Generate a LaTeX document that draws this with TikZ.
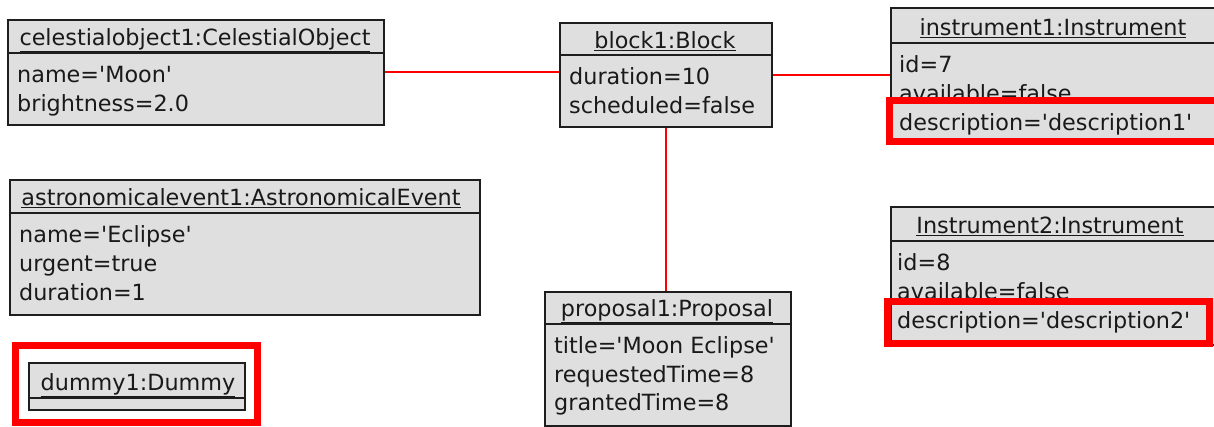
\documentclass[tikz,border=0pt]{standalone}
\usepackage{fontspec}
\setmainfont{DejaVu Sans}
\newcommand{\aps}{\textquotesingle}
\definecolor{boxgray}{RGB}{223,223,223}
\definecolor{boxline}{RGB}{30,30,30}
\definecolor{hired}{RGB}{255,0,0}
\tikzset{
  objbox/.style={draw=boxline, line width=1.5pt, fill=boxgray, inner sep=0pt, anchor=north west},
  divline/.style={draw=boxline, line width=1.5pt},
  txt/.style={inner sep=0pt, font=\fontsize{22.3}{26}\selectfont, text=black!90},
  attr/.style={txt, anchor=base west},
  ttl/.style={txt, anchor=base},
  assoc/.style={draw=hired, line width=1.8pt},
  hilite/.style={draw=hired, line width=7pt}
}
\begin{document}
\begin{tikzpicture}[x=1pt,y=-1pt]
\useasboundingbox (0,0) rectangle (1214,426);
\clip (0,0) rectangle (1214,426);
\fill[white] (0,0) rectangle (1214,426);

% celestialobject1
\node[objbox, minimum width=376pt, minimum height=105pt] (cel) at (7,19) {};
\draw[divline] (7,53) -- (383,53);
\node[ttl] (celt) at (195,45) {\underline{celestialobject1:CelestialObject}};
\node[attr] (cela1) at (17,82) {name=\aps Moon\aps};
\node[attr] (cela2) at (17,111) {brightness=2.0};

% block1
\node[objbox, minimum width=212pt, minimum height=104pt] (blk) at (559,22) {};
\draw[divline] (559,55) -- (771,55);
\node[ttl] (blkt) at (665,48) {\underline{block1:Block}};
\node[attr] (blka1) at (569,84) {duration=10};
\node[attr] (blka2) at (569,113) {scheduled=false};

% instrument1
\node[objbox, minimum width=326pt, minimum height=136pt] (insa) at (890,7) {};
\draw[divline] (890,43) -- (1216,43);
\node[ttl] (insat) at (1053,35) {\underline{instrument1:Instrument}};
\node[attr] (insaa1) at (899,72) {id=7};
\node[attr] (insaa2) at (899,101) {available=false};
\node[attr] (insaa3) at (899,130) {description=\aps description1\aps};

% Instrument2
\node[objbox, minimum width=326pt, minimum height=138pt] (insb) at (890,206) {};
\draw[divline] (890,241) -- (1216,241);
\node[ttl] (insbt) at (1050,233) {\underline{Instrument2:Instrument}};
\node[attr] (insba1) at (897,270) {id=8};
\node[attr] (insba2) at (897,299) {available=false};
\node[attr] (insba3) at (897,328) {description=\aps description2\aps};

% astronomicalevent1
\node[objbox, minimum width=470pt, minimum height=135pt] (ast) at (9,179) {};
\draw[divline] (9,213) -- (479,213);
\node[ttl] (astt) at (241,205) {\underline{astronomicalevent1:AstronomicalEvent}};
\node[attr] (asta1) at (19,242) {name=\aps Eclipse\aps};
\node[attr] (asta2) at (19,271) {urgent=true};
\node[attr] (asta3) at (19,300) {duration=1};

% proposal1
\node[objbox, minimum width=246pt, minimum height=134pt] (prop) at (544,291) {};
\draw[divline] (544,324) -- (790,324);
\node[ttl] (propt) at (667,316) {\underline{proposal1:Proposal}};
\node[attr] (propa1) at (554,353) {title=\aps Moon Eclipse\aps};
\node[attr] (propa2) at (554,382) {requestedTime=8};
\node[attr] (propa3) at (554,410) {grantedTime=8};

% dummy1
\node[objbox, minimum width=216pt, minimum height=47pt] (dum) at (28,362) {};
\draw[divline] (28,398) -- (244,398);
\node[ttl] (dumt) at (138,390) {\underline{dummy1:Dummy}};

% connectors
\draw[assoc] (cel.east) -- (cel.east -| blk.west);
\draw[assoc] (blk.east) -- (blk.east -| insa.west);
\draw[assoc] (blk.south) -- (blk.south |- prop.north);

% highlights
\draw[hilite] (889,100.5) rectangle (1225,141);
\draw[hilite] (887.5,301) rectangle (1209.5,343.5);
\draw[hilite] (15,345) rectangle (257.5,422.5);
\end{tikzpicture}
\end{document}
